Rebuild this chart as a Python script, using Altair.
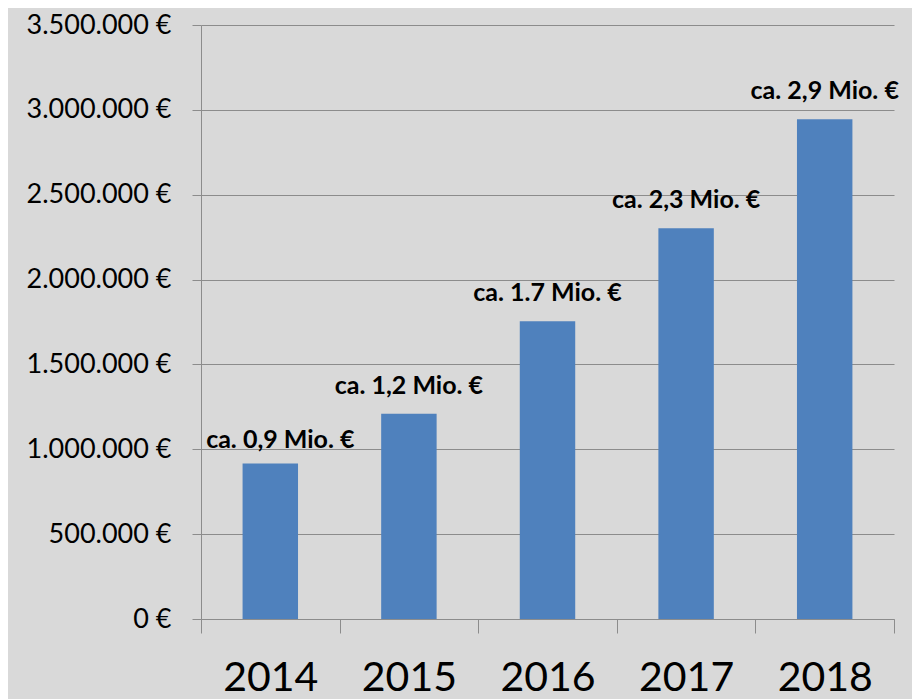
import altair as alt
import pandas as pd

years = ["2014", "2015", "2016", "2017", "2018"]
values = [916000, 1209000, 1755000, 2302000, 2945000]
labels = ["ca. 0,9 Mio. €", "ca. 1,2 Mio. €", "ca. 1.7 Mio. €", "ca. 2,3 Mio. €", "ca. 2,9 Mio. €"]
y_ticks = [0, 500000, 1000000, 1500000, 2000000, 2500000, 3000000, 3500000]

df = pd.DataFrame({"year": years, "value": values, "label": labels})

grey = "#8c8c8c"
FONT = "Lato"

x_enc = alt.X(
    "year:N",
    title=None,
    scale=alt.Scale(paddingInner=0, paddingOuter=0),
    axis=alt.Axis(
        tickBand="extent",
        labelAngle=0,
        labelFont=FONT,
        labelFontSize=41,
        labelColor="black",
        labelPadding=25,
        tickSize=14,
        tickColor=grey,
        domainColor=grey,
        grid=False,
    ),
)
y_enc = alt.Y(
    "value:Q",
    title=None,
    scale=alt.Scale(domain=[0, 3500000], nice=False),
    axis=alt.Axis(
        values=y_ticks,
        labelExpr="replace(replace(format(datum.value, ',.0f'), ',', '.'), ',', '.') + ' €'",
        labelFont=FONT,
        labelFontSize=27,
        labelColor="black",
        labelPadding=21,
        tickSize=9,
        tickColor=grey,
        domainColor=grey,
        gridColor=grey,
        gridWidth=1.2,
    ),
)

base = alt.Chart(df)
bars = base.mark_bar(color="#4f81bd", width=alt.RelativeBandSize(0.4)).encode(x=x_enc, y=y_enc)

text_main = base.transform_filter(alt.datum.year != "2014").mark_text(
    font=FONT, fontSize=25, fontWeight="bold", color="black", baseline="alphabetic", dy=-20
).encode(x="year:N", y="value:Q", text="label:N")

text_first = base.transform_filter(alt.datum.year == "2014").mark_text(
    font=FONT, fontSize=25, fontWeight="bold", color="black", baseline="alphabetic", dy=-16, dx=10
).encode(x="year:N", y="value:Q", text="label:N")

chart = (
    alt.layer(bars, text_main, text_first)
    .properties(
        width=693,
        height=594,
        padding={"left": 193, "top": 17, "right": 18, "bottom": 80},
        autosize=alt.AutoSizeParams(type="none"),
        background="#d9d9d9",
    )
    .configure_view(stroke=None)
)

chart.save("out.html", embed_options={"renderer": "svg", "actions": False})
